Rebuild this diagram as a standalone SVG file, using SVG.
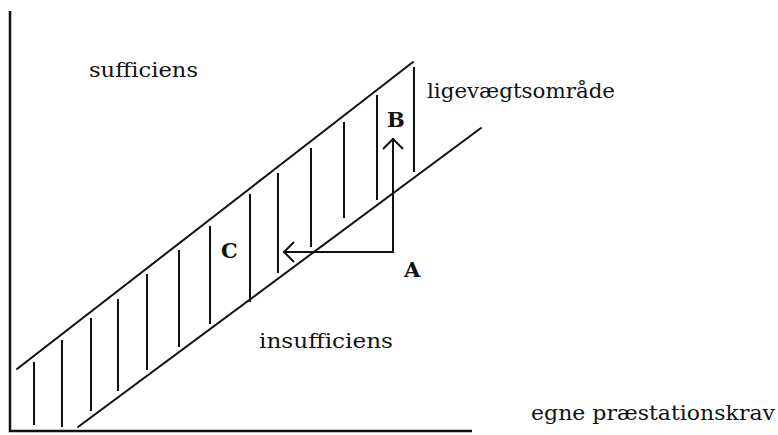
<svg xmlns="http://www.w3.org/2000/svg" width="778" height="435" viewBox="0 0 778 435">
<style>
.ax{stroke:#111;stroke-width:2.5;fill:none}
.ln{stroke:#111;stroke-width:2;fill:none;stroke-linecap:round}
.h{stroke:#111;stroke-width:2;fill:none}
.t{font-family:"DejaVu Serif","Liberation Serif",serif;font-size:20px;fill:#111}
.L{font-family:"DejaVu Serif","Liberation Serif",serif;font-size:21px;font-weight:bold;fill:#111}
</style>
<defs>
<marker id="ah" viewBox="0 0 14 22" refX="12" refY="11" markerWidth="14" markerHeight="22" markerUnits="userSpaceOnUse" orient="auto">
<path d="M2,1 L12,11 L2,21" fill="none" stroke="#111" stroke-width="2"/>
</marker>
</defs>
<rect width="778" height="435" fill="#fff"/>
<g id="axes">
<path class="ax" d="M10,11 V431 H472"/>
</g>
<g id="band">
<line class="ln" x1="17" y1="369" x2="413" y2="62"/>
<line class="ln" x1="78" y1="427" x2="481" y2="128"/>
</g>
<g id="hatch">
<line class="h" x1="34" y1="362" x2="34" y2="425"/>
<line class="h" x1="62" y1="340" x2="62" y2="427"/>
<line class="h" x1="91" y1="318" x2="91" y2="411"/>
<line class="h" x1="118" y1="299" x2="118" y2="391"/>
<line class="h" x1="147" y1="274" x2="147" y2="370"/>
<line class="h" x1="179" y1="250" x2="179" y2="347"/>
<line class="h" x1="210" y1="226" x2="210" y2="324"/>
<line class="h" x1="250" y1="194" x2="250" y2="302"/>
<line class="h" x1="278" y1="173" x2="278" y2="273"/>
<line class="h" x1="311" y1="148" x2="311" y2="247"/>
<line class="h" x1="344" y1="122" x2="344" y2="218"/>
<line class="h" x1="377" y1="95" x2="377" y2="200"/>
<line class="h" x1="414" y1="67" x2="414" y2="172"/>
</g>
<g id="connectors">
<path class="ln" d="M393,252 H284" marker-end="url(#ah)"/>
<path class="ln" d="M393,252 V139" marker-end="url(#ah)"/>
</g>
<g id="sufficiens"><text class="t" x="89" y="77" textLength="109" lengthAdjust="spacingAndGlyphs">sufficiens</text></g>
<g id="ligevaegtsomraade"><text class="t" x="427" y="98" textLength="188" lengthAdjust="spacingAndGlyphs">ligevægtsområde</text></g>
<g id="insufficiens"><text class="t" x="259" y="348" textLength="134" lengthAdjust="spacingAndGlyphs">insufficiens</text></g>
<g id="egne"><text class="t" x="531" y="420" textLength="244" lengthAdjust="spacingAndGlyphs">egne præstationskrav</text></g>
<g id="labelC"><text class="L" x="221" y="258">C</text></g>
<g id="labelB"><text class="L" x="387" y="127">B</text></g>
<g id="labelA"><text class="L" x="404" y="277">A</text></g>
</svg>
